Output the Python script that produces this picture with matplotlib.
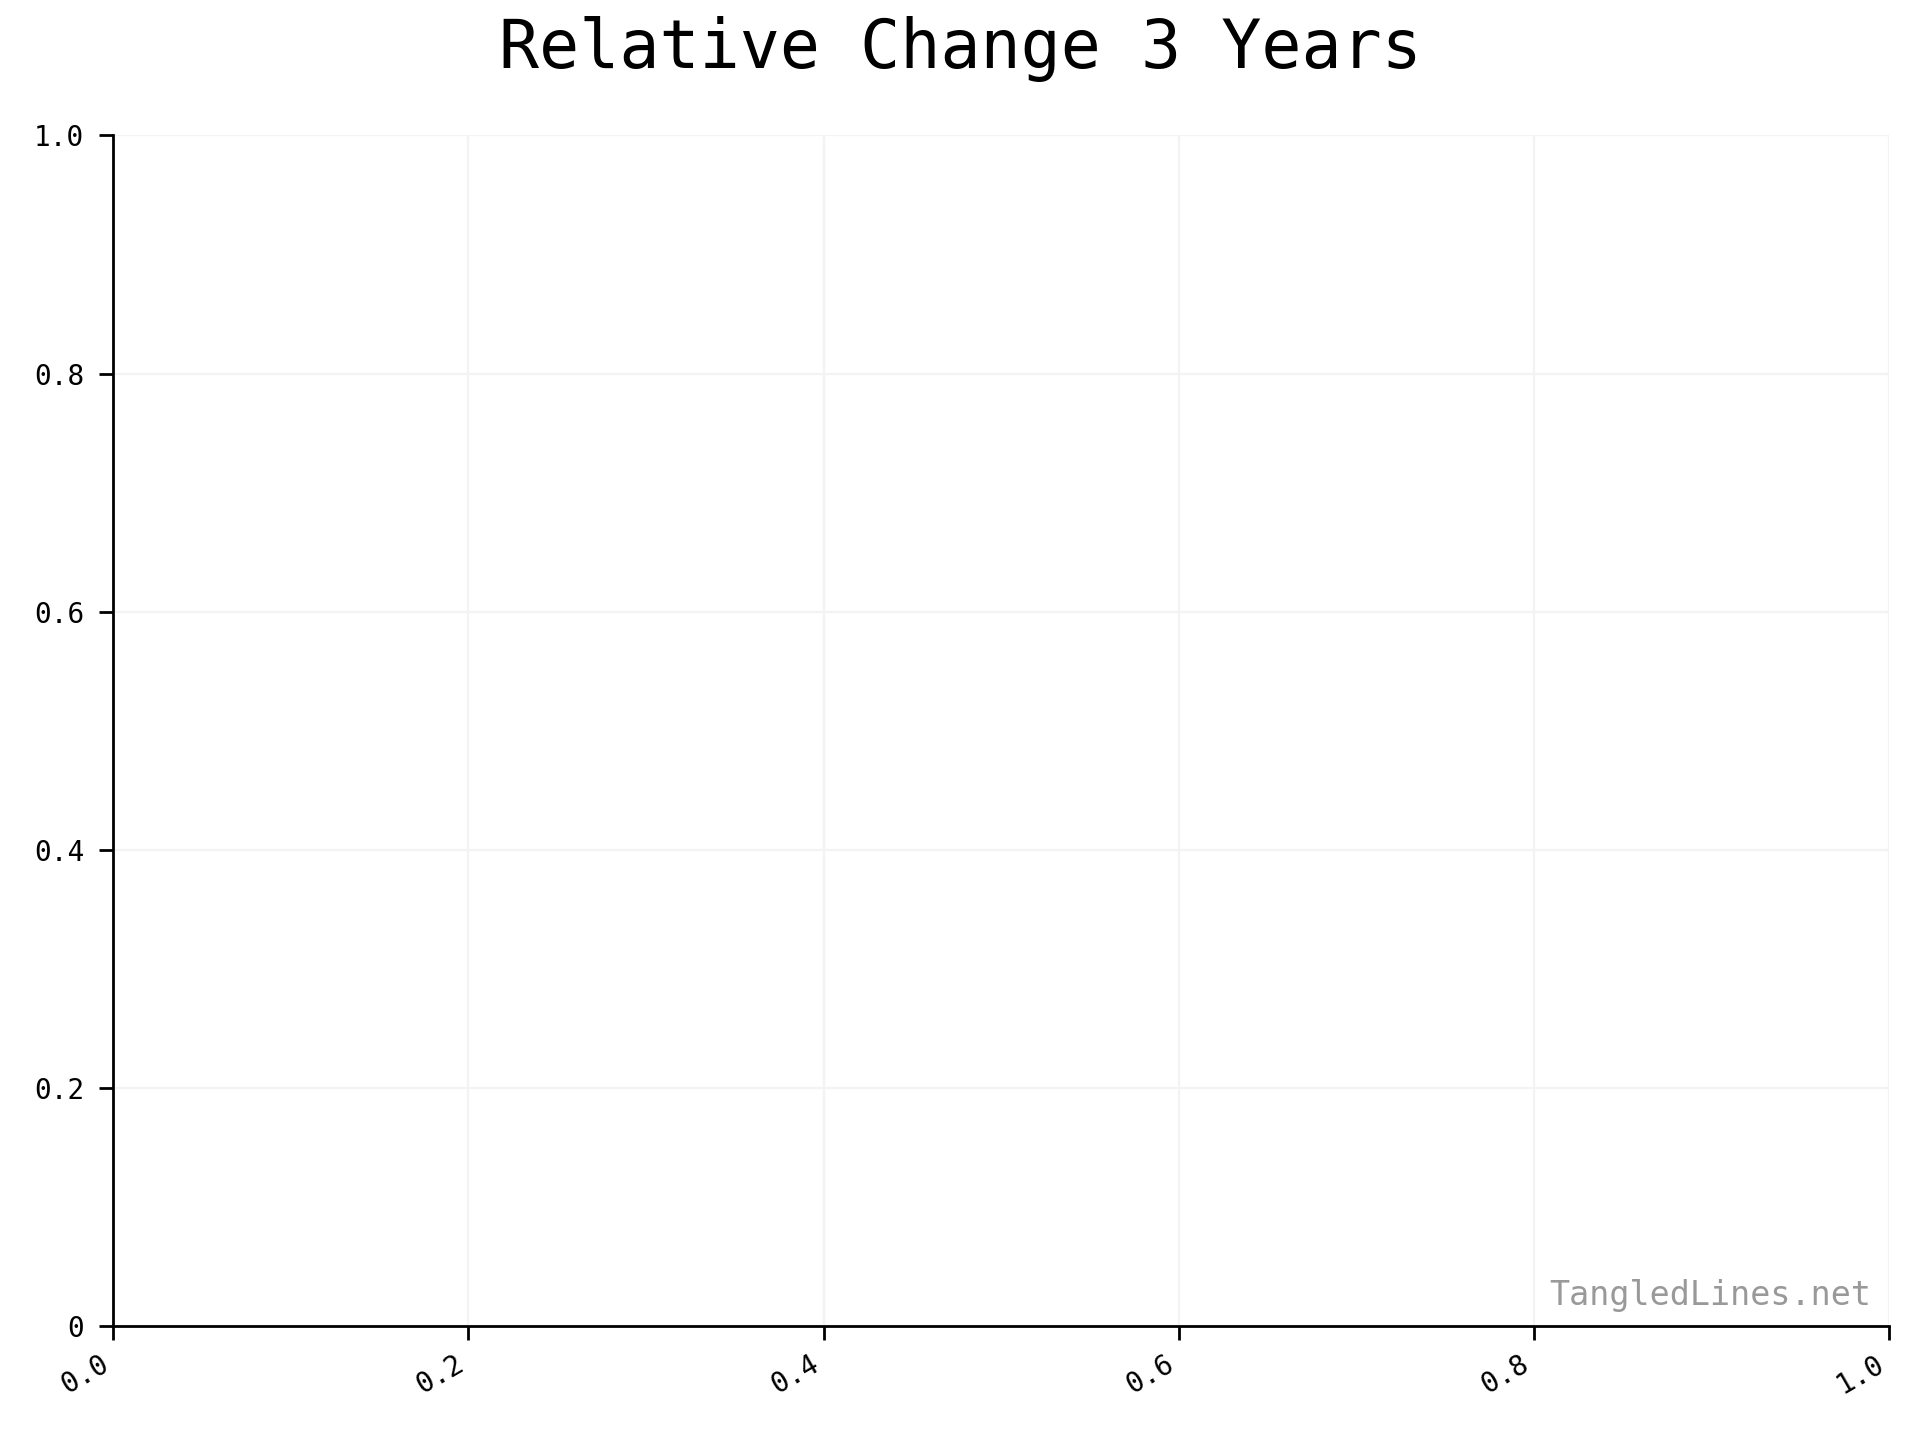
import matplotlib

matplotlib.use("Agg")
import matplotlib.pyplot as plt
from matplotlib.ticker import FuncFormatter

# The reference chart has no data drawn: the series are empty.
dates: list[float] = []
values: list[float] = []

TITLE = "Relative Change 3 Years"
WATERMARK = "TangledLines.net"
X_TICKS = [0.0, 0.2, 0.4, 0.6, 0.8, 1.0]
Y_TICKS = [0.0, 0.2, 0.4, 0.6, 0.8, 1.0]


def y_label(v, _pos):
    return "0" if abs(v) < 1e-12 else f"{v:.1f}"


def main() -> None:
    plt.rcParams.update(
        {
            "font.family": ["DejaVu Sans Mono"],
            "figure.facecolor": "white",
            "axes.facecolor": "white",
        }
    )
    fig = plt.figure(figsize=(9.6, 7.2), dpi=200)
    ax = fig.add_axes([0.059, 0.079, 0.925, 0.827])

    ax.plot(dates, values, color="#1f77b4", linewidth=1.5)

    ax.set_xlim(0, 1)
    ax.set_ylim(0, 1)
    ax.set_xticks(X_TICKS)
    ax.set_yticks(Y_TICKS)
    ax.yaxis.set_major_formatter(FuncFormatter(y_label))
    ax.xaxis.set_major_formatter(FuncFormatter(lambda v, p: f"{v:.1f}"))

    ax.spines["top"].set_visible(False)
    ax.spines["right"].set_visible(False)
    for side in ("left", "bottom"):
        ax.spines[side].set_linewidth(1.0)
        ax.spines[side].set_color("black")
    ax.tick_params(axis="both", direction="out", length=5, width=1.0,
                   labelsize=10, colors="black")
    ax.tick_params(axis="y", pad=5.5)
    ax.grid(True, color="#f3f3f3", linewidth=0.8)
    ax.set_axisbelow(True)

    for lbl in ax.get_xticklabels():
        lbl.set_rotation(30)
        lbl.set_ha("right")

    fig.suptitle(TITLE, fontsize=24, x=0.5, y=0.953, va="baseline")
    ax.text(0.99, 0.012, WATERMARK, transform=ax.transAxes, ha="right",
            va="bottom", fontsize=12, color="#999999")

    fig.savefig("out.png", dpi=200)
    plt.close(fig)


if __name__ == "__main__":
    main()
